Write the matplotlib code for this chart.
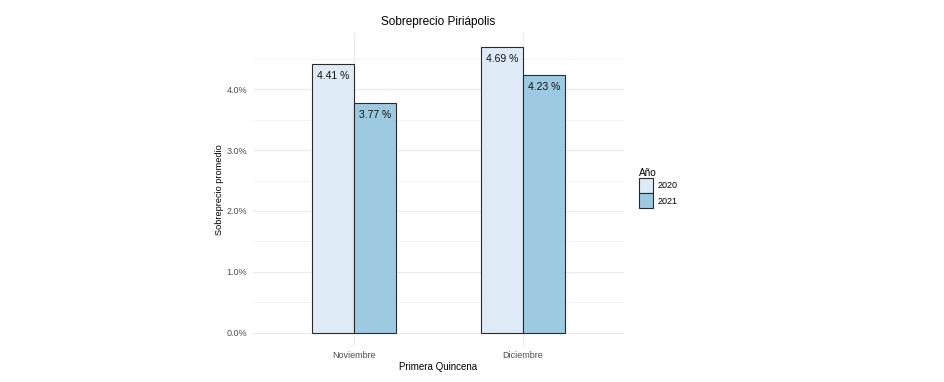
import numpy as np
import matplotlib
matplotlib.use("Agg")
import matplotlib.pyplot as plt
from matplotlib.patches import Patch
from matplotlib.ticker import FuncFormatter, MultipleLocator

plt.rcParams['font.family'] = ['Liberation Sans', 'DejaVu Sans']

# data
meses = ["Noviembre", "Diciembre"]
anios = ["2020", "2021"]
sobreprecio_2020 = [4.41, 4.69]
sobreprecio_2021 = [3.77, 4.23]
colores = ["#deebf7", "#9ecae1"]

fig = plt.figure(figsize=(9.45, 3.82), dpi=100)
ax = fig.add_axes([253 / 945, 35 / 382, 371 / 945, 314 / 382])

x = np.arange(1, len(meses) + 1)
w = 0.25
for i, (vals, col) in enumerate(zip([sobreprecio_2020, sobreprecio_2021], colores)):
    pos = x + (i - 0.5) * w
    ax.bar(pos, vals, width=w, color=col, edgecolor="#2a2a2a", linewidth=0.8, zorder=3)
    for px, v in zip(pos, vals):
        ax.annotate(f"{v:.2f} %", (px, v), xytext=(0, -5), textcoords="offset points",
                    ha="center", va="top", fontsize=7.5, color="#111111", zorder=4)

ymax = max(sobreprecio_2020 + sobreprecio_2021)
ax.set_ylim(-0.05 * ymax, 1.05 * ymax)
ax.set_xlim(0.4, 2.6)

ax.yaxis.set_major_locator(MultipleLocator(1.0))
ax.yaxis.set_minor_locator(MultipleLocator(0.5))
ax.yaxis.set_major_formatter(FuncFormatter(lambda v, p: f"{v:.1f}%"))
ax.set_xticks(x)
ax.set_xticklabels(meses)

ax.grid(True, which="major", color="#ebebeb", linewidth=0.8, zorder=0)
ax.grid(True, which="minor", axis="y", color="#f3f3f3", linewidth=0.6, zorder=0)
for s in ax.spines.values():
    s.set_visible(False)
ax.tick_params(axis="both", which="both", length=0, labelsize=6.5, labelcolor="#4d4d4d")
ax.tick_params(axis="x", pad=3)
ax.tick_params(axis="y", pad=4)

ax.set_xlabel("Primera Quincena", fontsize=7, labelpad=1)
ax.set_ylabel("Sobreprecio promedio", fontsize=6.6, labelpad=2)
ax.set_title("Sobreprecio Piriápolis", fontsize=8.5, pad=6)

handles = [Patch(facecolor=c, edgecolor="#2a2a2a", linewidth=0.8, label=a) for c, a in zip(colores, anios)]
leg = fig.legend(handles=handles, title="Año", loc="upper left", bbox_to_anchor=(639 / 945, 1 - 168 / 382),
                 frameon=False, fontsize=6.5, title_fontsize=7.2, handlelength=1.6, handleheight=2.2,
                 handletextpad=0.5, labelspacing=0.0, borderaxespad=0, borderpad=0)
leg._legend_box.align = "left"

fig.savefig("out.png", dpi=100)
